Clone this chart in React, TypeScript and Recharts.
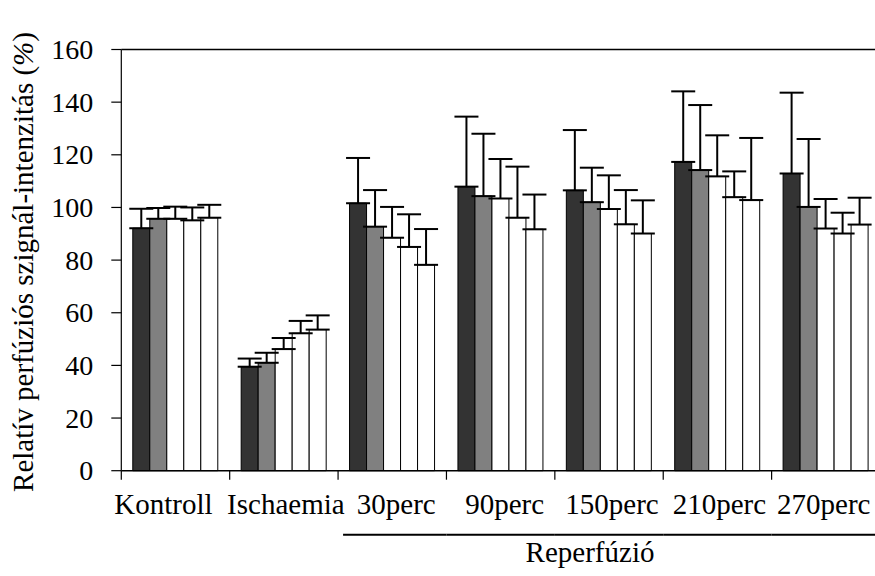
import { BarChart, Bar, XAxis, YAxis, ErrorBar, ReferenceLine } from 'recharts'

const categories = ['Kontroll', 'Ischaemia', '30perc', '90perc', '150perc', '210perc', '270perc']
const s1 = [92.1, 39.5, 101.6, 107.9, 106.5, 117.3, 112.9]
const s1Err = [7.4, 3.1, 17.2, 26.6, 22.9, 26.8, 30.7]
const s2 = [95.7, 41.0, 92.7, 104.3, 102.0, 114.2, 100.2]
const s2Err = [4.1, 3.8, 13.9, 23.7, 13.1, 24.7, 25.8]
const s3 = [95.7, 46.2, 88.5, 103.4, 99.4, 111.8, 92.0]
const s3Err = [4.6, 4.2, 11.7, 15.0, 12.8, 15.6, 11.2]
const s4 = [95.1, 52.2, 85.0, 96.1, 93.6, 103.9, 90.1]
const s4Err = [4.9, 4.7, 12.4, 19.4, 13.0, 9.8, 7.9]
const s5 = [96.1, 53.6, 78.2, 91.7, 90.1, 102.8, 93.5]
const s5Err = [4.9, 5.4, 13.6, 13.2, 12.6, 23.6, 10.2]
const yTicks = [0, 20, 40, 60, 80, 100, 120, 140, 160]
const groupLabel = 'Reperfúzió'

const data = categories.map((name, i) => ({
  name,
  a: s1[i], aErr: [0, s1Err[i]],
  b: s2[i], bErr: [0, s2Err[i]],
  c: s3[i], cErr: [0, s3Err[i]],
  d: s4[i], dErr: [0, s4Err[i]],
  e: s5[i], eErr: [0, s5Err[i]],
}))

const W = 885
const H = 576
const LEFT = 121.3
const RIGHT = 5
const catW = (W - LEFT - RIGHT) / categories.length
const font = 'Liberation Serif, serif'
// small horizontal nudges so labels sit like in the original figure
const labelNudge = [-12, 2, 4, 4, 3, 2, -2]

const series = [
  { key: 'a', fill: '#333333' },
  { key: 'b', fill: '#808080' },
  { key: 'c', fill: '#ffffff' },
  { key: 'd', fill: '#ffffff' },
  { key: 'e', fill: '#ffffff' },
]

function XTick(props: any) {
  const { x, y, payload, index } = props
  const bx = x - catW / 2
  return (
    <g>
      <line x1={bx} y1={y} x2={bx} y2={y + 9} stroke="#000" strokeWidth={1.2} />
      <text x={x + labelNudge[index]} y={y + 43} textAnchor="middle" style={{ fontSize: 29, fontFamily: font }} fill="#000">
        {payload.value}
      </text>
      {index >= 2 && (
        <line x1={index === 2 ? bx + 5 : bx} y1={y + 64} x2={bx + catW} y2={y + 64} stroke="#000" strokeWidth={2} />
      )}
      {index === 4 && (
        <text x={x - 19} y={y + 91} textAnchor="middle" style={{ fontSize: 29, fontFamily: font }} fill="#000">
          {groupLabel}
        </text>
      )}
    </g>
  )
}

function YTick(props: any) {
  const { x, y, payload } = props
  return (
    <text x={x} y={y} textAnchor="end" dominantBaseline="central" style={{ fontSize: 28, fontFamily: font }} fill="#000">
      {payload.value}
    </text>
  )
}

export default function App() {
  return (
    <div style={{ position: 'absolute', left: 0, top: 0, width: 875, height: 576, overflow: 'hidden', background: '#fff', fontFamily: font }}>
      <BarChart
        width={W}
        height={H}
        data={data}
        margin={{ top: 49.5, right: RIGHT, bottom: 75.3, left: 0 }}
        barCategoryGap="10.6%"
        barGap={0}
        style={{ fontFamily: font }}
      >
        <XAxis
          dataKey="name"
          height={30}
          stroke="#000"
          strokeWidth={1.5}
          tickLine={false}
          tickSize={0}
          tickMargin={0}
          interval={0}
          tick={<XTick />}
        />
        <YAxis
          width={LEFT}
          domain={[0, 160]}
          ticks={yTicks}
          stroke="#000"
          strokeWidth={1.2}
          tickSize={10}
          tickMargin={18}
          tick={<YTick />}
          label={{
            content: () => (
              <text
                transform="rotate(-90 23 262)"
                x={23}
                y={262}
                textAnchor="middle"
                dominantBaseline="central"
                style={{ fontSize: 29, fontFamily: font }}
                fill="#000"
              >
                Relatív perfúziós szignál-intenzitás (<tspan fontStyle="italic">%</tspan>)
              </text>
            ),
          }}
        />
        <ReferenceLine y={160} stroke="#000" strokeWidth={1.5} />
        {series.map((s) => (
          <Bar key={s.key} dataKey={s.key} fill={s.fill} stroke="#000" strokeWidth={1} isAnimationActive={false}>
            <ErrorBar dataKey={s.key + 'Err'} direction="y" width={12} stroke="#000" strokeWidth={2} />
          </Bar>
        ))}
      </BarChart>
    </div>
  )
}
